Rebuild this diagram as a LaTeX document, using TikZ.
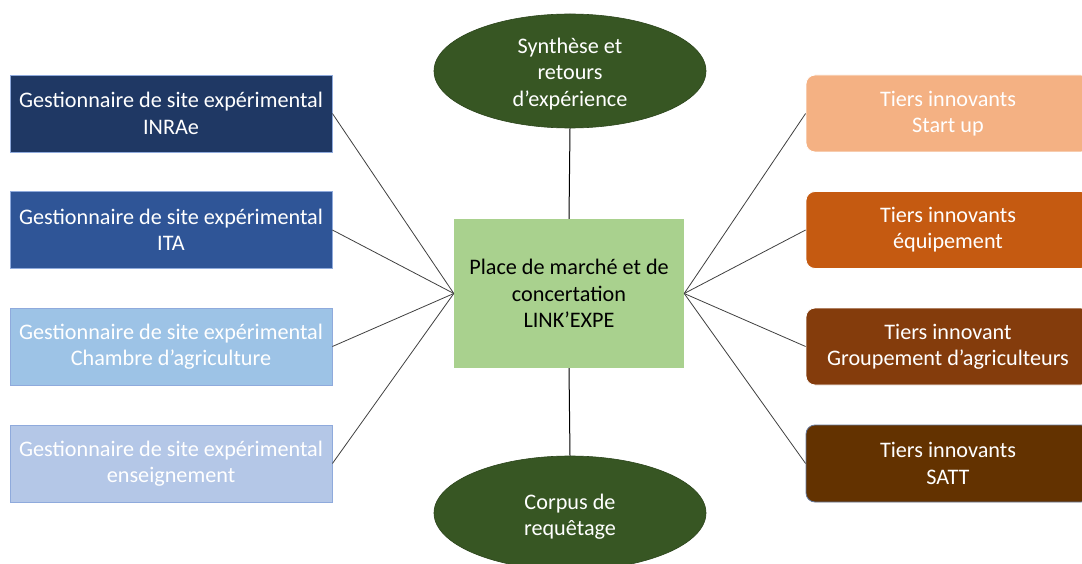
\documentclass[tikz,border=0pt]{standalone}
\usepackage{fontspec}
\setmainfont{Carlito}
\usetikzlibrary{shapes.geometric}
\definecolor{lb1}{HTML}{1F3864}
\definecolor{lb2}{HTML}{2F5597}
\definecolor{lb3}{HTML}{9DC3E6}
\definecolor{lb4}{HTML}{B4C7E7}
\definecolor{rb1}{HTML}{F4B183}
\definecolor{rb2}{HTML}{C55A11}
\definecolor{rb3}{HTML}{843C0C}
\definecolor{rb4}{HTML}{633200}
\definecolor{cgreen}{HTML}{A9D18E}
\definecolor{dgreen}{HTML}{375623}
\definecolor{edgeblue}{HTML}{8FAADC}
\definecolor{linegray}{HTML}{404040}
\newcommand{\lowered}[2]{\raisebox{-#1}[\height][\depth]{\parbox{150pt}{\centering #2}}}
\tikzset{
  txt/.style={font=\fontsize{22.2}{26.3}\selectfont, align=center, text=white},
  leftbox/.style={txt, rectangle, draw=edgeblue, line width=0.8pt, minimum width=322pt, minimum height=77pt, inner sep=0pt},
  rightbox/.style={txt, rectangle, rounded corners=9pt, draw=white, line width=0.8pt, minimum width=284pt, minimum height=77pt, inner sep=0pt},
  oval/.style={txt, ellipse, fill=dgreen, draw=dgreen!80!black, line width=0.6pt, minimum width=272pt, minimum height=114pt, inner sep=0pt},
  spoke/.style={draw=linegray, line width=0.8pt},
  stem/.style={draw=black, line width=1pt}
}
\begin{document}
\begin{tikzpicture}[x=1pt, y=-1pt]
\useasboundingbox (0,0) rectangle (1082,564);
\fill[white] (0,0) rectangle (1082,564);
% centre
\node[txt, text=black, rectangle, fill=cgreen, minimum width=230pt, minimum height=149pt, inner sep=0pt] (C) at (569,293.5) {Place de march\'e et de\\concertation\\LINK’EXPE};
% ellipses
\node[oval] (T) at (570,71) {\lowered{3pt}{Synth\`ese et\\retours\\d’exp\'erience}};
\node[oval] (B) at (570,513) {\lowered{4pt}{Corpus de\\requ\^etage}};
% left
\node[leftbox, fill=lb1] (L1) at (171,113.5) {Gestionnaire de site exp\'erimental\\INRAe};
\node[leftbox, fill=lb2] (L2) at (171,230) {Gestionnaire de site exp\'erimental\\ITA};
\node[leftbox, fill=lb3] (L3) at (171,346.5) {Gestionnaire de site exp\'erimental\\Chambre d’agriculture};
\node[leftbox, fill=lb4] (L4) at (171,463.5) {Gestionnaire de site exp\'erimental\\enseignement};
% right
\node[rightbox, fill=rb1] (R1) at (948,113.5) {Tiers innovants\\Start up};
\node[rightbox, fill=rb2] (R2) at (948,230) {Tiers innovants\\\'equipement};
\node[rightbox, fill=rb3] (R3) at (948,346.5) {Tiers innovant\\Groupement d’agriculteurs};
\node[rightbox, fill=rb4, draw=edgeblue!70!black] (R4) at (948,463.5) {Tiers innovants\\SATT};
% connectors
\foreach \n in {L1,L2,L3,L4} \draw[spoke] (\n.east) -- (C.west);
\foreach \n in {R1,R2,R3,R4} \draw[spoke] (\n.west) -- (C.east);
\draw[stem] (T.south) -- (C.north);
\draw[stem] (C.south) -- (B.north);
\end{tikzpicture}
\end{document}
